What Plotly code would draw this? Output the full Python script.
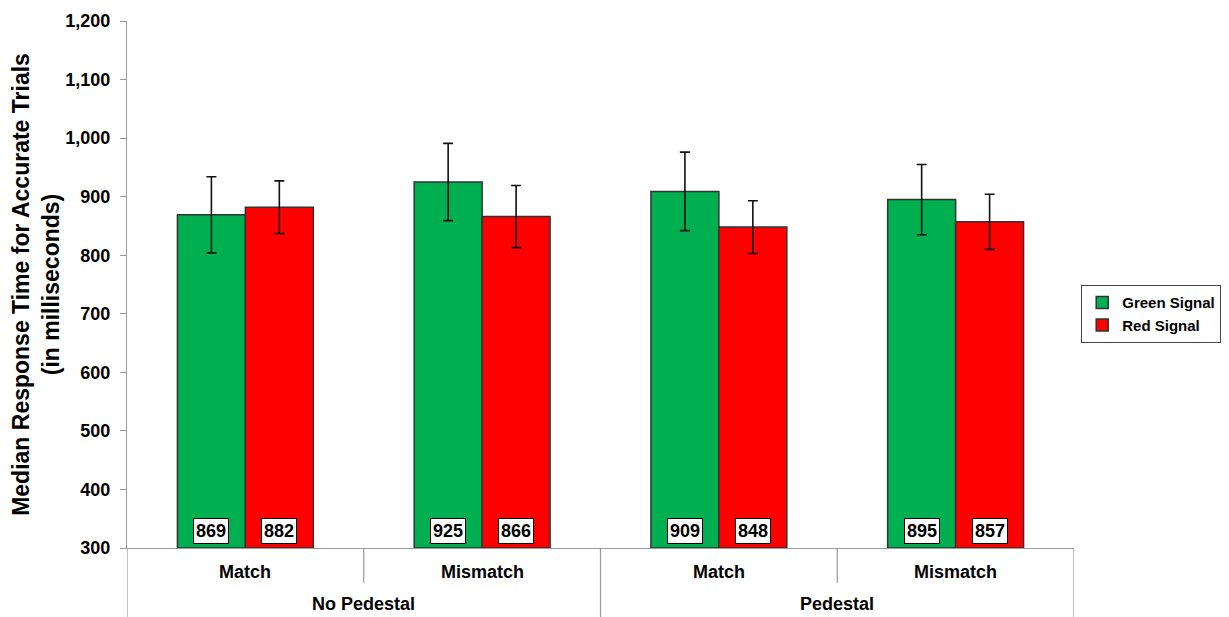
import plotly.graph_objects as go

outer_groups = ["No Pedestal", "No Pedestal", "Pedestal", "Pedestal"]
inner_cats = ["Match", "Mismatch", "Match", "Mismatch"]
green_vals = [869, 925, 909, 895]
green_err = [65, 66, 67, 60]
red_vals = [882, 866, 848, 857]
red_err = [45, 53, 45, 47]
y_ticks = [300, 400, 500, 600, 700, 800, 900, 1000, 1100, 1200]

FONT = "Arial, Liberation Sans, sans-serif"
BARGAP = 0.426
xs = list(range(len(inner_cats)))

fig = go.Figure()
fig.add_trace(go.Bar(
    x=xs, y=[v - 300 for v in green_vals], base=300, name="Green Signal",
    marker=dict(color="#00B050", line=dict(color="#333333", width=1.5)),
    error_y=dict(type="data", array=green_err, color="#111111", thickness=1.6, width=5),
))
fig.add_trace(go.Bar(
    x=xs, y=[v - 300 for v in red_vals], base=300, name="Red Signal",
    marker=dict(color="#FF0000", line=dict(color="#333333", width=1.5)),
    error_y=dict(type="data", array=red_err, color="#111111", thickness=1.6, width=5),
))

bw = (1 - BARGAP) / 2
annos = []
for i in xs:
    for vals, off in ((green_vals, -bw / 2), (red_vals, bw / 2)):
        annos.append(dict(
            x=i + off, y=300, xref="x", yref="y", yanchor="bottom", yshift=4,
            text="<b>%d</b>" % vals[i], showarrow=False,
            font=dict(family=FONT, size=18, color="black"),
            bgcolor="white", bordercolor="black", borderwidth=1, borderpad=2,
        ))
    annos.append(dict(
        x=i, y=0, xref="x", yref="paper", yanchor="middle", yshift=-24,
        text="<b>%s</b>" % inner_cats[i], showarrow=False,
        font=dict(family=FONT, size=18, color="black"),
    ))
for g in range(0, len(inner_cats), 2):
    annos.append(dict(
        x=g + 0.5, y=0, xref="x", yref="paper", yanchor="middle", yshift=-56,
        text="<b>%s</b>" % outer_groups[g], showarrow=False,
        font=dict(family=FONT, size=18, color="black"),
    ))

shapes = []
for b in [-0.5, 0.5, 1.5, 2.5, 3.5]:
    full = (b + 0.5) % 2 == 0
    shapes.append(dict(
        type="line", xref="x", yref="paper", x0=b, x1=b, y0=0,
        y1=-0.135 if full else -0.066,
        line=dict(color="#9A9A9A", width=1.2),
    ))

fig.update_layout(
    width=1229, height=617,
    margin=dict(l=119, r=163, t=13, b=77, autoexpand=False),
    paper_bgcolor="white", plot_bgcolor="white",
    barmode="group", bargap=BARGAP, bargroupgap=0,
    font=dict(family=FONT, color="black"),
    showlegend=True,
    legend=dict(
        x=1.0074, y=0.444, xanchor="left", yanchor="middle",
        bordercolor="#444444", borderwidth=1.2,
        font=dict(family=FONT, size=15, color="black", weight="bold"),
        itemwidth=30, tracegroupgap=2,
    ),
    xaxis=dict(
        range=[-0.5, 3.5], showticklabels=False, ticks="", showgrid=False,
        zeroline=False, showline=True, linecolor="#9A9A9A", linewidth=1.2,
    ),
    yaxis=dict(
        range=[300, 1200], tickvals=y_ticks, tickformat=",d",
        showgrid=False, zeroline=False, showline=True, linecolor="#9A9A9A",
        linewidth=1.2, ticks="outside", ticklen=6, tickcolor="#9A9A9A",
        ticklabelstandoff=6,
        tickfont=dict(family=FONT, size=18, color="black", weight="bold"),
        title=dict(
            text="Median Response Time for Accurate Trials<br>(in milliseconds)",
            font=dict(family=FONT, size=23, color="black", weight="bold"),
            standoff=14,
        ),
    ),
    annotations=annos,
    shapes=shapes,
)

fig.write_html("out.html")
